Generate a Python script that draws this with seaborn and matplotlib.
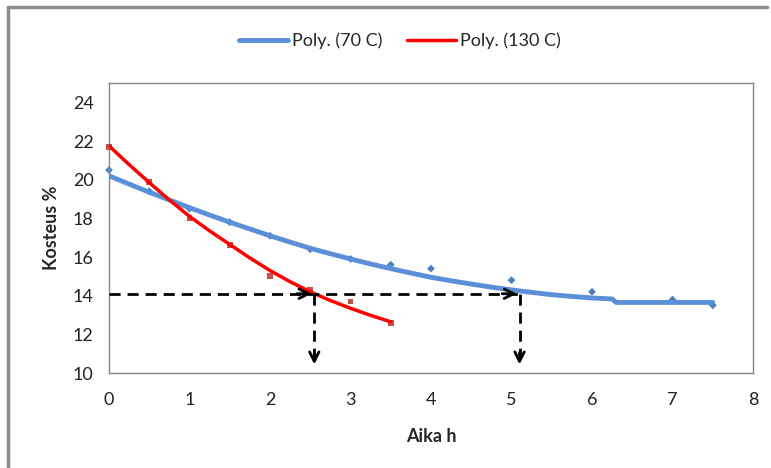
import matplotlib.pyplot as plt
from matplotlib.lines import Line2D
import seaborn as sb

# measured points
time_70 = [0, 0.5, 1, 1.5, 2, 2.5, 3, 3.5, 4, 5, 6, 7, 7.5]
moist_70 = [20.5, 19.4, 18.5, 17.8, 17.1, 16.4, 15.9, 15.6, 15.4, 14.8, 14.2, 13.8, 13.5]
time_130 = [0, 0.5, 1, 1.5, 2, 2.5, 3, 3.5]
moist_130 = [21.7, 19.9, 18.0, 16.6, 15.0, 14.3, 13.7, 12.6]

# trend lines
trend_x_70 = [0, 0.25, 0.5, 0.75, 1, 1.25, 1.5, 1.75, 2, 2.25, 2.5, 2.75, 3, 3.25, 3.5, 3.75,
              4, 4.25, 4.5, 4.75, 5, 5.25, 5.5, 5.75, 6, 6.25, 6.3, 7.5]
trend_y_70 = [20.2, 19.77, 19.35, 18.95, 18.55, 18.17, 17.8, 17.45, 17.1, 16.77, 16.45, 16.17,
              15.9, 15.64, 15.4, 15.17, 14.95, 14.77, 14.6, 14.44, 14.3, 14.17, 14.05, 13.96,
              13.88, 13.83, 13.65, 13.65]
trend_x_130 = [0, 0.25, 0.5, 0.75, 1, 1.25, 1.5, 1.75, 2, 2.25, 2.5, 2.75, 3, 3.25, 3.5]
trend_y_130 = [21.75, 20.78, 19.85, 18.95, 18.1, 17.35, 16.65, 15.95, 15.3, 14.72, 14.2,
               13.75, 13.35, 12.98, 12.65]

target = 14.1
cross_x = [2.55, 5.1]

blue = "#5B8FD8"
red = "#FF0000"
frame = "#868686"

sb.set_style("white")
plt.rcParams['font.family'] = ['Lato', 'DejaVu Sans']

fig = plt.figure(figsize=(7.71, 4.68), dpi=100)
ax = fig.add_axes([109/771, 1-373/468, (753-109)/771, (373-83)/468])

sb.scatterplot(x=time_70, y=moist_70, ax=ax, marker="D", s=16, color="#4F81BD", edgecolor="none",
               zorder=2, clip_on=False)
sb.scatterplot(x=time_130, y=moist_130, ax=ax, marker="s", s=18, color="#C0504D", edgecolor="none",
               zorder=2, clip_on=False)
sb.lineplot(x=trend_x_70, y=trend_y_70, ax=ax, color=blue, linewidth=3.5, label="Poly. (70 C)",
            zorder=3, sort=False, solid_joinstyle="round")
sb.lineplot(x=trend_x_130, y=trend_y_130, ax=ax, color=red, linewidth=2.5, label="Poly. (130 C)",
            zorder=3, sort=False, solid_joinstyle="round")

# dashed guide lines with arrows
dash = (0, (4, 2.5))
ax.plot([0, cross_x[1]], [target, target], color="black", linestyle=dash, linewidth=2, zorder=4)
for cx in cross_x:
    ax.annotate("", xy=(cx, target), xytext=(cx - 0.25, target),
                arrowprops=dict(arrowstyle="->", color="black", lw=2, mutation_scale=17), zorder=5)
    ax.plot([cx, cx], [target, 10.45], color="black", linestyle=dash, linewidth=2, zorder=4)
    ax.annotate("", xy=(cx, 10.3), xytext=(cx, 11.2),
                arrowprops=dict(arrowstyle="->", color="black", lw=2, mutation_scale=17), zorder=5)

ax.set_xlim(0, 8)
ax.set_ylim(10, 25)
ax.set_xticks(range(0, 9))
ax.set_yticks(range(10, 25, 2))
ax.tick_params(axis="both", direction="out", length=5, width=1, color=frame, labelsize=13,
               labelcolor="#222222")
ax.tick_params(axis="x", pad=9)
ax.tick_params(axis="y", pad=6)
for s in ax.spines.values():
    s.set_color(frame)
    s.set_linewidth(1)
ax.set_xlabel("Aika h", fontsize=13, fontweight="bold", labelpad=14)
ax.set_ylabel("Kosteus %", fontsize=13, fontweight="bold", labelpad=9)

ax.get_legend().remove()
h, l = ax.get_legend_handles_labels()
fig.legend(h, l, loc="center", bbox_to_anchor=(400/771, 1-41/468), ncol=2, frameon=False,
           fontsize=13, handlelength=2.7, columnspacing=1.4, handletextpad=0.2)

# outer chart border (only left and top edges show in the crop)
fig.lines.append(Line2D([8/771, 8/771], [0, 1-7/468], transform=fig.transFigure,
                        color="#8C8C8C", linewidth=2.5))
fig.lines.append(Line2D([8/771, 0.995], [1-7/468, 1-7/468], transform=fig.transFigure,
                        color="#8C8C8C", linewidth=2.5))

fig.savefig("out.png", dpi=100)
plt.close()
